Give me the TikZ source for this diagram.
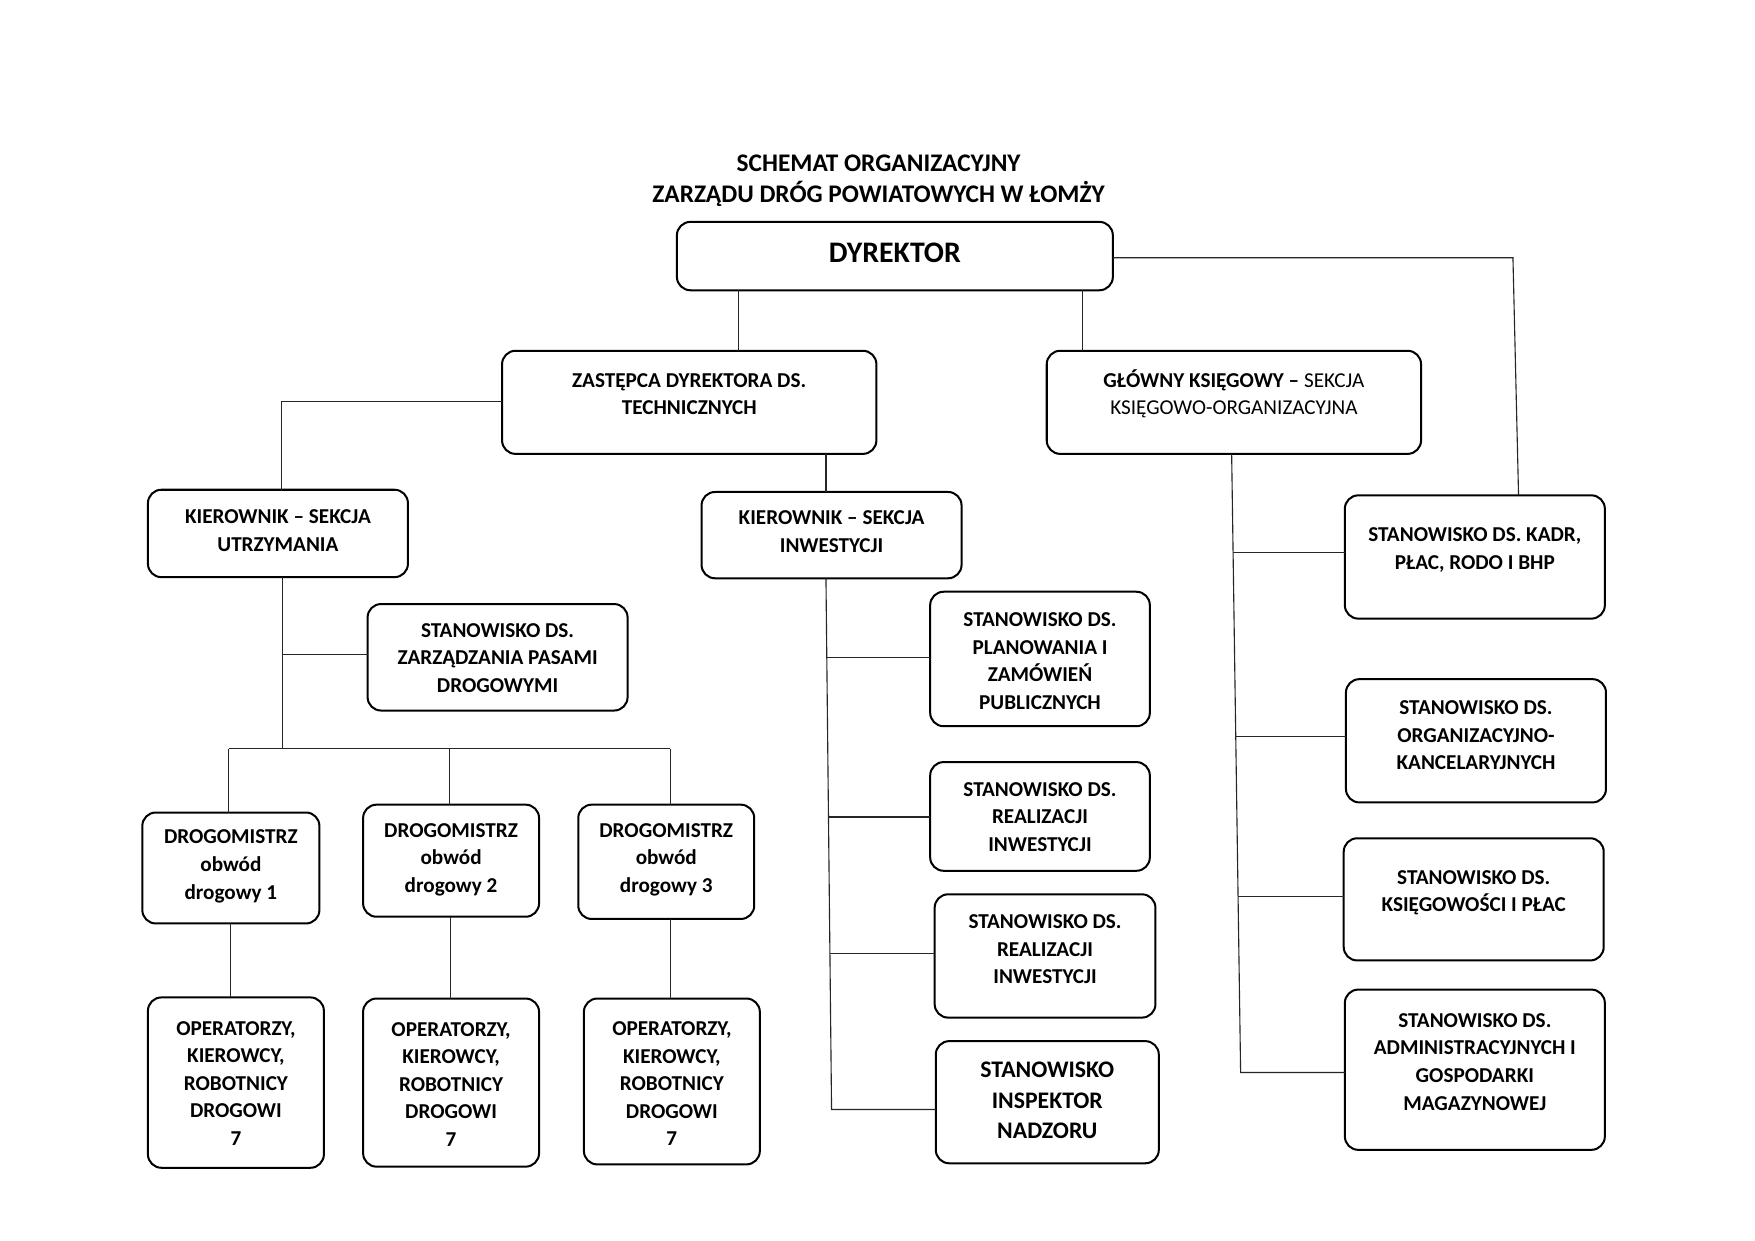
\documentclass[tikz,border=0pt]{standalone}
\usepackage{fontspec}
\setmainfont{Carlito}
\tikzset{
  box/.style={draw=black, line width=0.9pt, rounded corners=6pt, inner sep=0pt, outer sep=0pt},
  txt/.style={align=center, font=\bfseries\fontsize{9.45}{12.3}\selectfont, inner sep=0pt},
  bigtxt/.style={align=center, font=\bfseries\fontsize{10.6}{13.5}\selectfont, inner sep=0pt},
  ttl/.style={align=center, font=\bfseries\fontsize{11.3}{13.5}\selectfont, inner sep=0pt},
  conn/.style={draw=black!85, line width=0.5pt},
}
\newcommand\bx[5]{\node[box, minimum width={0.5pt*(#4-#2)}, minimum height={0.5pt*(#5-#3)}] (#1) at ({(#2+#4)/2},{(#3+#5)/2}) {};}
\begin{document}
\begin{tikzpicture}[x=0.5pt, y=-0.5pt]
\fill[white] (0,0) rectangle (1566,1107.3);
\useasboundingbox (0,0) rectangle (1566,1107.3);

% title
\node[ttl] (title1) at (784,146) {SCHEMAT ORGANIZACYJNY};
\node[ttl] (title2) at (784,173) {ZARZĄDU DRÓG POWIATOWYCH W ŁOMŻY};

% boxes
\bx{dyr}{604}{198}{993}{259}
\bx{zas}{448}{313}{782}{405}
\bx{gk}{934}{313}{1268}{405}
\bx{kut}{132}{437}{364}{515}
\bx{kin}{626}{439}{858}{516}
\bx{zpd}{328}{539}{560}{634}
\bx{dr1}{127}{725}{285}{824}
\bx{dr2}{324}{718}{481}{818}
\bx{dr3}{516}{718}{673}{820}
\bx{op1}{132}{890}{289}{1042}
\bx{op2}{324}{891}{481}{1041}
\bx{op3}{521}{891}{678}{1039}
\bx{plz}{830}{528}{1026}{648}
\bx{ri1}{830}{680}{1026}{777}
\bx{ri2}{834}{798}{1031}{908}
\bx{insp}{835}{929}{1034}{1038}
\bx{kadr}{1200}{442}{1432}{552}
\bx{org}{1201}{606}{1433}{716}
\bx{ksp}{1199}{748}{1431}{857}
\bx{adm}{1200}{883}{1432}{1026}

% texts
\node[txt, font=\bfseries\fontsize{13.3}{16}\selectfont] (tdyr) at (798.5,226) {DYREKTOR};
\node[txt] (tzas) at (615,351.5) {ZASTĘPCA DYREKTORA DS.\\TECHNICZNYCH};
\node[txt] (tgk) at (1101,351.5) {GŁÓWNY KSIĘGOWY –{\mdseries\ SEKCJA}\\{\mdseries KSIĘGOWO-ORGANIZACYJNA}};
\node[txt] (tkut) at (248,473.5) {KIEROWNIK – SEKCJA\\UTRZYMANIA};
\node[txt] (tkin) at (742,474.5) {KIEROWNIK – SEKCJA\\INWESTYCJI};
\node[txt] (tzpd) at (444,587) {STANOWISKO DS.\\ZARZĄDZANIA PASAMI\\DROGOWYMI};
\node[txt] (tdr1) at (206,773) {DROGOMISTRZ\\obwód\\drogowy 1};
\node[txt] (tdr2) at (402.5,767) {DROGOMISTRZ\\obwód\\drogowy 2};
\node[txt] (tdr3) at (594.5,767) {DROGOMISTRZ\\obwód\\drogowy 3};
\node[txt] (top1) at (210.5,966.6) {OPERATORZY,\\KIEROWCY,\\ROBOTNICY\\DROGOWI\\7};
\node[txt] (top2) at (402.5,967.6) {OPERATORZY,\\KIEROWCY,\\ROBOTNICY\\DROGOWI\\7};
\node[txt] (top3) at (599.5,967) {OPERATORZY,\\KIEROWCY,\\ROBOTNICY\\DROGOWI\\7};
\node[txt] (tplz) at (928,590) {STANOWISKO DS.\\PLANOWANIA I\\ZAMÓWIEŃ\\PUBLICZNYCH};
\node[txt] (tri1) at (928,729) {STANOWISKO DS.\\REALIZACJI\\INWESTYCJI};
\node[txt] (tri2) at (932.5,847) {STANOWISKO DS.\\REALIZACJI\\INWESTYCJI};
\node[bigtxt] (tinsp) at (934.5,982) {STANOWISKO\\INSPEKTOR\\NADZORU};
\node[txt] (tkadr) at (1316,490.5) {STANOWISKO DS. KADR,\\PŁAC, RODO I BHP};
\node[txt] (torg) at (1317,656) {STANOWISKO DS.\\ORGANIZACYJNO-\\KANCELARYJNYCH};
\node[txt] (tksp) at (1315,796.5) {STANOWISKO DS.\\KSIĘGOWOŚCI I PŁAC};
\node[txt] (tadm) at (1316,947.5) {STANOWISKO DS.\\ADMINISTRACYJNYCH I\\GOSPODARKI\\MAGAZYNOWEJ};

% connectors
\coordinate (a1) at (659,0);
\draw[conn] (dyr.south -| a1) -- (zas.north -| a1);
\coordinate (a2) at (966,0);
\draw[conn] (dyr.south -| a2) -- (gk.north -| a2);
\coordinate (a3) at (1350,230);
\coordinate (a3b) at (1355,0);
\draw[conn] (dyr.east |- a3) -- (a3) -- (kadr.north -| a3b);
\coordinate (a4) at (251,358);
\draw[conn] (zas.west |- a4) -- (a4) -- (kut.north -| a4);
\coordinate (a5) at (737,0);
\draw[conn] (zas.south -| a5) -- (kin.north -| a5);

% utrzymanie
\coordinate (a6) at (252,668);
\draw[conn] (kut.south -| a6) -- (a6);
\coordinate (a7) at (252,584);
\draw[conn] (a7) -- (zpd.west |- a7);
\coordinate (h1) at (204,668);
\coordinate (h2) at (401,668);
\coordinate (h3) at (598,668);
\draw[conn] (h1) -- (h3);
\draw[conn] (h1) -- (dr1.north -| h1);
\draw[conn] (h2) -- (dr2.north -| h2);
\draw[conn] (h3) -- (dr3.north -| h3);
\coordinate (v1) at (205.5,0);
\coordinate (v2) at (402,0);
\coordinate (v3) at (598.5,0);
\draw[conn] (dr1.south -| v1) -- (op1.north -| v1);
\draw[conn] (dr2.south -| v2) -- (op2.north -| v2);
\draw[conn] (dr3.south -| v3) -- (op3.north -| v3);

% inwestycje
\coordinate (k0) at (737,0);
\coordinate (k4) at (742,990);
\draw[conn] (kin.south -| k0) -- (k4) -- (insp.west |- k4);
\coordinate (k1) at (737.7,587);
\coordinate (k2) at (739.2,729);
\coordinate (k3) at (740.5,851);
\draw[conn] (k1) -- (plz.west |- k1);
\draw[conn] (k2) -- (ri1.west |- k2);
\draw[conn] (k3) -- (ri2.west |- k3);

% ksiegowosc
\coordinate (g0) at (1099,0);
\coordinate (g4) at (1107,957);
\draw[conn] (gk.south -| g0) -- (g4) -- (adm.west |- g4);
\coordinate (g1) at (1100.3,493);
\coordinate (g2) at (1102.6,657);
\coordinate (g3) at (1104.7,800);
\draw[conn] (g1) -- (kadr.west |- g1);
\draw[conn] (g2) -- (org.west |- g2);
\draw[conn] (g3) -- (ksp.west |- g3);
\end{tikzpicture}
\end{document}
